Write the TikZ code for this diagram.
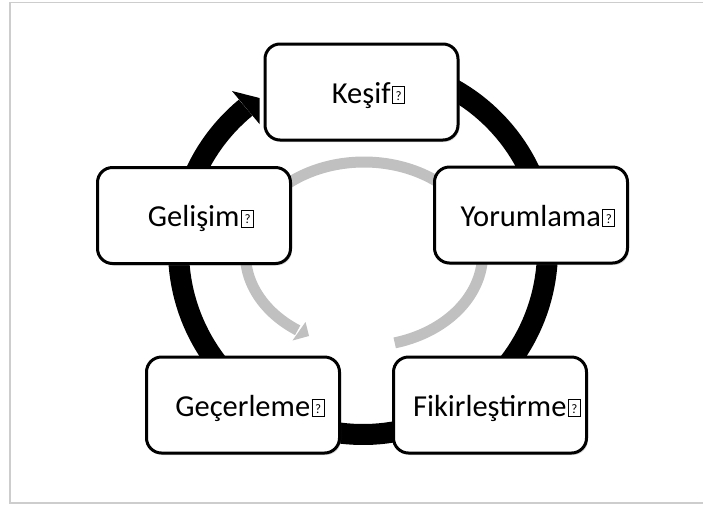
\documentclass[tikz,border=0pt]{standalone}
\usepackage{fontspec}
\setmainfont{Carlito}
\usetikzlibrary{shadows}
\definecolor{framegray}{RGB}{205,205,205}
\definecolor{arcgray}{RGB}{192,192,192}
% boxed question mark standing for a glyph the font lacks
\newcommand{\missingglyph}{{\kern1.5pt\setlength{\fboxsep}{0pt}\setlength{\fboxrule}{1pt}%
  \fbox{\rule{0pt}{16pt}\makebox[11pt]{\raisebox{3pt}{\fontsize{13}{13}\selectfont ?}}}}}

\begin{document}
\begin{tikzpicture}[x=1pt, y=-1pt,
  stagebox/.style={draw=black, line width=3pt, fill=white, rounded corners=15pt,
    minimum width=193pt, minimum height=96pt, inner sep=0pt,
    text height=22pt, text depth=0pt,
    font=\fontsize{30.5}{33}\selectfont,
    drop shadow={shadow xshift=1.5pt, shadow yshift=-2pt, opacity=0.3}},
  outerring/.style={line width=21pt, black},
  innerring/.style={line width=11pt, arcgray},
  frameline/.style={framegray, line width=1.5pt}]
\useasboundingbox (0,0) rectangle (703,507);
\fill[white] (0,0) rectangle (703,507);

% page frame
\draw[frameline] (703,2.5) -- (10,2.5) -- (10,503) -- (703,503);

% outer black cycle arrow
\draw[outerring] plot[domain=-75:230.5, samples=150, variable=\t]
  ({363+184.5*cos(\t)}, {250+184.5*sin(\t)});
\fill[black] (232,91) -- (259.5,98) -- (259.5,124) -- cycle;

% inner gray cycle arrow
\draw[innerring] plot[domain=-236:75, samples=150, variable=\t]
  ({364+118.6*cos(\t)}, {254+92*sin(\t)});
\fill[arcgray] (292.5,340.5) -- (309,336) -- (305.5,322) -- cycle;

% stages
\node[stagebox] (kesif) at (361.5,92)  {\hspace*{14pt}Keşif\missingglyph};
\node[stagebox] (yorum) at (531,215)   {\hspace*{14pt}Yorumlama\missingglyph};
\node[stagebox] (fikir) at (490,405)   {\hspace*{14pt}Fikirleştirme\missingglyph};
\node[stagebox] (gecer) at (243,405)   {\hspace*{14pt}Geçerleme\missingglyph};
\node[stagebox] (gelis) at (194,215.5) {\hspace*{14pt}Gelişim\missingglyph};
\end{tikzpicture}
\end{document}
